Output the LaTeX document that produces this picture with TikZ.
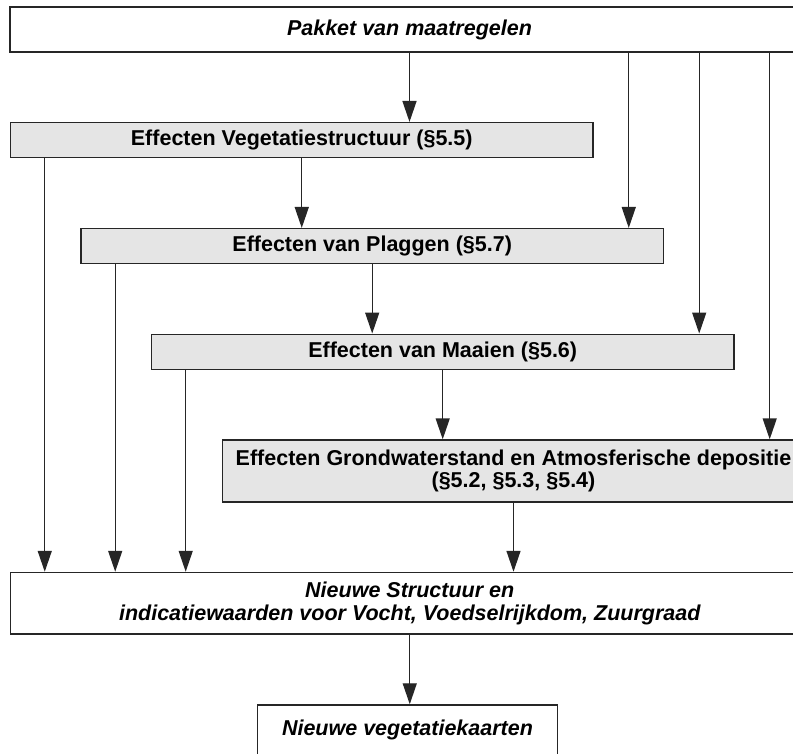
\documentclass[tikz,border=0pt]{standalone}
\usepackage{fontspec}
\setmainfont{Liberation Sans}
\usetikzlibrary{arrows.meta,calc}
\tikzset{
  box/.style={draw=black!85,line width=1.5pt,rectangle,inner sep=0pt,align=center,
    font=\fontsize{21.5}{22.5}\selectfont\bfseries},
  wbox/.style={box,fill=white,font=\fontsize{21.5}{22.5}\selectfont\bfseries\itshape},
  gbox/.style={box,fill=black!10,minimum width=582.5pt},
  arr/.style={-{Triangle[length=21pt,width=14pt]},line width=1.4pt,black!85}
}
\begin{document}
\begin{tikzpicture}[x=1pt,y=-1pt]
      \useasboundingbox (0,0) rectangle (793,753);
      \clip (0,0) rectangle (793,753);
      \node[wbox,minimum width=799pt,minimum height=45pt] (pakket) at (409.5,29.5) {Pakket van maatregelen};
      \node[gbox,minimum height=35pt] (veg) at (301.75,140.2) {Effecten Vegetatiestructuur (§5.5)};
      \node[gbox,minimum height=35pt] (plag) at (372.2,246.2) {Effecten van Plaggen (§5.7)};
      \node[gbox,minimum height=35pt] (maai) at (442.7,351.8) {Effecten van Maaien (§5.6)};
      \node[gbox,minimum height=61.7pt] (grond) at (513.5,470.9) {Effecten Grondwaterstand en Atmosferische depositie\\(§5.2, §5.3, §5.4)};
      \node[wbox,minimum width=798.5pt,minimum height=61.5pt] (nieuw) at (409.75,603.25) {Nieuwe Structuur en\\indicatiewaarden voor Vocht, Voedselrijkdom, Zuurgraad};
      \node[wbox,minimum width=299.6pt,minimum height=50pt] (kaart) at (407.5,730) {Nieuwe vegetatiekaarten};
      \foreach \a/\b in {pakket/veg,veg/plag,plag/maai,maai/grond,grond/nieuw,nieuw/kaart}
        \draw[arr] (\a.south) -- (\a.south |- \b.north);
      \foreach \a/\b in {veg/plag,plag/maai,maai/grond}{
        \coordinate (r-\a) at ($(\a.east)+(35,0)$);
        \draw[arr] (pakket.south -| r-\a) -- (\b.north -| r-\a);
      }
      \foreach \a in {veg,plag,maai}{
        \coordinate (l-\a) at ($(\a.west)+(35,0)$);
        \draw[arr] (l-\a |- \a.south) -- (l-\a |- nieuw.north);
      }
    \end{tikzpicture}
\end{document}
